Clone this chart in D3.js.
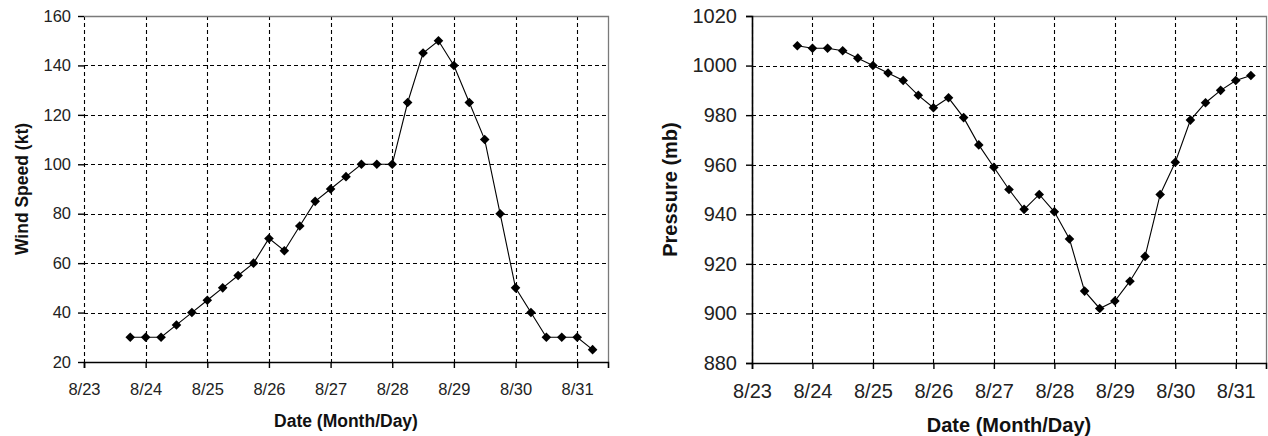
<!DOCTYPE html>
<html>
<head>
<meta charset="utf-8">
<script src="https://cdn.jsdelivr.net/npm/d3@7"></script>
<style>
  body { margin: 0; background: #fff; }
  svg { display: block; font-family: Arial, "Liberation Sans", sans-serif; }
  .grid line { stroke: #000; stroke-width: 1.1; stroke-dasharray: 4,3; }
  .axis text { fill: #222; }
  .axis-label { font-weight: bold; fill: #111; }
</style>
</head>
<body>
<div id="charts"></div>
<script>
// observation times, day of August (6-hourly)
const obsDays = [23.75, 24.00, 24.25, 24.50, 24.75, 25.00, 25.25, 25.50, 25.75, 26.00,
                 26.25, 26.50, 26.75, 27.00, 27.25, 27.50, 27.75, 28.00, 28.25, 28.50,
                 28.75, 29.00, 29.25, 29.50, 29.75, 30.00, 30.25, 30.50, 30.75, 31.00, 31.25];

const windKt = [30, 30, 30, 35, 40, 45, 50, 55, 60, 70,
                65, 75, 85, 90, 95, 100, 100, 100, 125, 145,
                150, 140, 125, 110, 80, 50, 40, 30, 30, 30, 25];

const pressureMb = [1008, 1007, 1007, 1006, 1003, 1000, 997, 994, 988, 983,
                    987, 979, 968, 959, 950, 942, 948, 941, 930, 909,
                    902, 905, 913, 923, 948, 961, 978, 985, 990, 994, 996];

const dayTicks = [23, 24, 25, 26, 27, 28, 29, 30, 31];
const dayLabels = ["8/23", "8/24", "8/25", "8/26", "8/27", "8/28", "8/29", "8/30", "8/31"];
const windTicks = [20, 40, 60, 80, 100, 120, 140, 160];
const pressureTicks = [880, 900, 920, 940, 960, 980, 1000, 1020];

const svg = d3.select("#charts").append("svg")
    .attr("width", 1268)
    .attr("height", 436);

// snap a 1px line to the pixel grid
const px = v => Math.round(v) + 0.5;

function drawChart(opts) {
    let x = d3.scaleLinear().domain([23, 31.5]).range([opts.left, opts.right]);
    let y = d3.scaleLinear().domain(opts.yDomain).range([opts.bottom, opts.top]);

    let g = svg.append("g");

    // grid
    g.append("g").attr("class", "grid")
        .selectAll("line.v")
        .data(dayTicks)
        .join("line")
        .attr("x1", d => px(x(d))).attr("x2", d => px(x(d)))
        .attr("y1", opts.top).attr("y2", opts.bottom);

    g.append("g").attr("class", "grid")
        .selectAll("line.h")
        .data(opts.yTicks.slice(1, -1))
        .join("line")
        .attr("x1", opts.left).attr("x2", opts.right)
        .attr("y1", d => px(y(d))).attr("y2", d => px(y(d)));

    // plot border top / right
    g.append("path")
        .attr("d", `M${opts.left},${opts.top + 0.5}H${opts.right + 0.5}V${opts.bottom}`)
        .attr("fill", "none")
        .attr("stroke", "#7a7a7a")
        .attr("stroke-width", 1.3);

    // axes
    let xAxis = g.append("g")
        .attr("class", "axis")
        .attr("transform", `translate(0,${opts.bottom})`)
        .call(d3.axisBottom(x).tickValues(dayTicks)
            .tickFormat((d, i) => dayLabels[i])
            .tickSizeOuter(0).tickSize(6).tickPadding(opts.xPad));
    xAxis.select(".domain").attr("stroke", "#000").attr("stroke-width", 1.6);
    xAxis.selectAll(".tick line").attr("stroke", "#000").attr("stroke-width", 1.4);
    xAxis.selectAll("text").style("font-size", opts.tickFont + "px");

    let yAxis = g.append("g")
        .attr("class", "axis")
        .attr("transform", `translate(${opts.left},0)`)
        .call(d3.axisLeft(y).tickValues(opts.yTicks)
            .tickFormat(d3.format("d"))
            .tickSizeOuter(0).tickSize(6).tickPadding(opts.yPad));
    yAxis.selectAll(".tick line").attr("stroke", "#000").attr("stroke-width", 1.4);
    yAxis.selectAll("text").style("font-size", opts.tickFont + "px");
    if (opts.solidYAxis) {
        yAxis.select(".domain").attr("stroke", "#000").attr("stroke-width", 1.6);
    } else {
        yAxis.select(".domain").remove();
    }

    // axis titles
    g.append("text")
        .attr("class", "axis-label")
        .attr("x", (opts.left + opts.right) / 2)
        .attr("y", opts.xTitleY)
        .attr("text-anchor", "middle")
        .style("font-size", opts.titleFont + "px")
        .text("Date (Month/Day)");

    g.append("text")
        .attr("class", "axis-label")
        .attr("transform", `translate(${opts.yTitleX},${(opts.top + opts.bottom) / 2}) rotate(-90)`)
        .attr("text-anchor", "middle")
        .style("font-size", opts.titleFont + "px")
        .text(opts.yTitle);

    // series line + diamond markers
    let pts = obsDays.map((d, i) => [d, opts.values[i]]);

    g.append("path")
        .datum(pts)
        .attr("fill", "none")
        .attr("stroke", "#000")
        .attr("stroke-width", 1.1)
        .attr("d", d3.line()
            .x(d => x(d[0]))
            .y(d => y(d[1])));

    let r = 4.8;
    g.selectAll(".marker")
        .data(pts)
        .join("path")
        .attr("class", "marker")
        .attr("transform", d => `translate(${x(d[0])},${y(d[1])})`)
        .attr("d", `M0,${-r}L${r},0L0,${r}L${-r},0Z`)
        .attr("fill", "#000");
}

drawChart({
    left: 84, right: 608, top: 16, bottom: 362,
    yDomain: [20, 160], yTicks: windTicks, values: windKt,
    yTitle: "Wind Speed (kt)", solidYAxis: false,
    tickFont: 16.5, titleFont: 17.5,
    xPad: 15, yPad: 7, xTitleY: 427, yTitleX: 28
});

drawChart({
    left: 752, right: 1266, top: 16, bottom: 363,
    yDomain: [880, 1020], yTicks: pressureTicks, values: pressureMb,
    yTitle: "Pressure (mb)", solidYAxis: true,
    tickFont: 20, titleFont: 20,
    xPad: 14.5, yPad: 9, xTitleY: 432, yTitleX: 677
});
</script>
</body>
</html>
